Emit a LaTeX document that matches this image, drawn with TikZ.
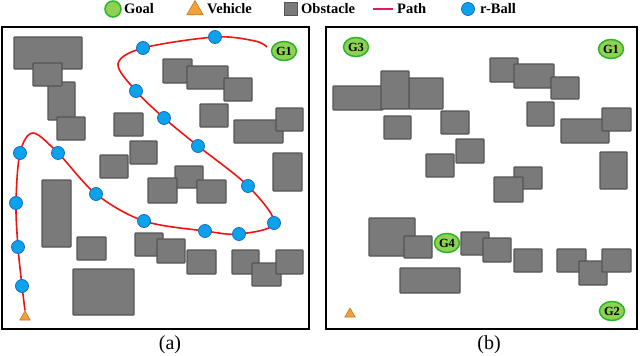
\documentclass[tikz,border=0pt]{standalone}
\usepackage{fontspec}
\setmainfont{Liberation Serif}
\usetikzlibrary{shapes.geometric}
\definecolor{obsfill}{HTML}{7A7A7A}
\definecolor{obsdraw}{HTML}{555555}
\definecolor{ballfill}{HTML}{0AA2EA}
\definecolor{balldraw}{HTML}{1A6CC4}
\definecolor{pathred}{HTML}{F01414}
\definecolor{legpath}{HTML}{E8185A}
\definecolor{goalfill}{HTML}{8FD152}
\definecolor{goaldraw}{HTML}{2BB52B}
\definecolor{vehfill}{HTML}{F2A03C}
\definecolor{vehdraw}{HTML}{C8781E}
\tikzset{
  frame/.style={draw=black, line width=2pt},
  obs/.style={fill=obsfill, draw=obsdraw, line width=1.3pt, rounded corners=0.8pt},
  ball/.style={circle, fill=ballfill, draw=balldraw, line width=0.8pt, minimum size=13pt, inner sep=0pt},
  goal/.style={ellipse, fill=goalfill, draw=goaldraw, line width=1.5pt, minimum width=25pt, minimum height=19pt, inner sep=0pt, font=\bfseries\fontsize{12.5}{12.5}\selectfont},
  vehicle/.style={regular polygon, regular polygon sides=3, fill=vehfill, draw=vehdraw, line width=0.6pt, minimum size=12pt, inner sep=0pt},
  legtext/.style={anchor=west, inner sep=0pt, font=\bfseries\fontsize{14.5}{16}\selectfont},
  route/.style={draw=pathred, line width=1.6pt},
  caption/.style={font=\fontsize{20}{22}\selectfont, inner sep=0pt}
}
\begin{document}
\begin{tikzpicture}[x=1pt,y=-1pt]
\useasboundingbox (0,0) rectangle (640,356);
\fill[white] (0,0) rectangle (640,356);

% ---------------- Legend ----------------
\node[circle, fill=goalfill, draw=goaldraw, line width=1.5pt, minimum size=16pt, inner sep=0pt] (lgoal) at (113,9) {};
\node[legtext] (tgoal) at (124,8.5) {Goal};
\node[regular polygon, regular polygon sides=3, fill=vehfill, draw=vehdraw, line width=0.6pt, minimum size=19pt, inner sep=0pt] (lveh) at (195,10) {};
\node[legtext] (tveh) at (207,8.5) {Vehicle};
\node[rectangle, fill=obsfill, draw=obsdraw, line width=1.3pt, minimum size=13pt, inner sep=0pt] (lobs) at (291,9) {};
\node[legtext] (tobs) at (301,8.5) {Obstacle};
\coordinate (lp1) at (373,9);
\coordinate (lp2) at (393,9);
\draw[draw=legpath, line width=2.5pt] (lp1) -- (lp2);
\node[legtext] (tpath) at (397,8.5) {Path};
\node[ball, minimum size=13pt] (lball) at (468,9) {};
\node[legtext] (tball) at (480,8.5) {r-Ball};

% ---------------- Panel (a) ----------------
\draw[frame] (2,27) rectangle (309,329);
\draw[obs] (14,37) rectangle (82,69);
\draw[obs] (48,82) rectangle (75,120);
\draw[obs] (33,63) rectangle (62,86);
\draw[obs] (57,117) rectangle (85,140);
\draw[obs] (114,113) rectangle (143,136);
\draw[obs] (130,141) rectangle (157,164);
\draw[obs] (100,155) rectangle (128,178);
\draw[obs] (163,59) rectangle (192,83);
\draw[obs] (187,66) rectangle (228,89);
\draw[obs] (224,78) rectangle (252,101);
\draw[obs] (200,104) rectangle (228,127);
\draw[obs] (234,120) rectangle (283,143);
\draw[obs] (276,108) rectangle (303,131);
\draw[obs] (273,153) rectangle (302,191);
\draw[obs] (175,166) rectangle (203,188);
\draw[obs] (148,178) rectangle (177,203);
\draw[obs] (197,180) rectangle (226,203);
\draw[obs] (42,180) rectangle (71,247);
\draw[obs] (77,237) rectangle (106,260);
\draw[obs] (135,233) rectangle (163,256);
\draw[obs] (157,239) rectangle (185,263);
\draw[obs] (187,250) rectangle (216,274);
\draw[obs] (232,250) rectangle (259,274);
\draw[obs] (252,263) rectangle (281,286);
\draw[obs] (276,250) rectangle (303,274);
\draw[obs] (73,269) rectangle (134,315);

\node[goal] (ga1) at (284,51) {G1};
\node[vehicle] (va) at (25,317) {};

\coordinate (p1) at (22,286);
\coordinate (p2) at (18,247);
\coordinate (p3) at (16,203);
\coordinate (p4) at (20,153);
\coordinate (c1) at (33,133);
\coordinate (p5) at (58,153);
\coordinate (p6) at (96,194);
\coordinate (p7) at (144,221);
\coordinate (p8) at (205,231);
\coordinate (p9) at (239,234);
\coordinate (p10) at (274,223);
\coordinate (p11) at (248,186);
\coordinate (p12) at (198,146);
\coordinate (p13) at (164,118);
\coordinate (p14) at (136,91);
\coordinate (c2) at (118,64);
\coordinate (p15) at (143,48);
\coordinate (p16) at (215,37);
\coordinate (c3) at (255,41);
\coordinate (c4) at (267,47);

\draw[route] plot[smooth, tension=0.55] coordinates {(va.north) (p1) (p2) (p3) (p4) (c1) (p5) (p6) (p7) (p8) (p9) (p10) (p11) (p12) (p13) (p14) (c2) (p15) (p16) (c3) (c4)};

\foreach \i in {1,...,16} { \node[ball] (ba\i) at (p\i) {}; }

\node[caption] (capa) at (170,345) {(a)};

% ---------------- Panel (b) ----------------
\draw[frame] (326,27) rectangle (637,329);
\draw[obs] (333,86) rectangle (383,110);
\draw[obs] (409,78) rectangle (443,109);
\draw[obs] (381,71) rectangle (409,109);
\draw[obs] (384,116) rectangle (411,139);
\draw[obs] (441,111) rectangle (469,134);
\draw[obs] (456,139) rectangle (484,163);
\draw[obs] (426,154) rectangle (454,177);
\draw[obs] (490,58) rectangle (518,82);
\draw[obs] (514,64) rectangle (554,88);
\draw[obs] (551,77) rectangle (579,99);
\draw[obs] (527,102) rectangle (554,126);
\draw[obs] (561,119) rectangle (609,143);
\draw[obs] (602,108) rectangle (631,131);
\draw[obs] (600,152) rectangle (627,189);
\draw[obs] (514,167) rectangle (542,189);
\draw[obs] (494,177) rectangle (523,202);
\draw[obs] (369,218) rectangle (415,256);
\draw[obs] (404,236) rectangle (432,258);
\draw[obs] (461,232) rectangle (489,255);
\draw[obs] (483,238) rectangle (511,262);
\draw[obs] (400,268) rectangle (460,293);
\draw[obs] (514,249) rectangle (542,272);
\draw[obs] (557,249) rectangle (586,272);
\draw[obs] (579,261) rectangle (607,285);
\draw[obs] (602,249) rectangle (631,272);

\node[goal] (gb3) at (356,47) {G3};
\node[goal] (gb1) at (611,49) {G1};
\node[goal] (gb4) at (447,243) {G4};
\node[goal] (gb2) at (612,311) {G2};
\node[vehicle] (vb) at (350,314) {};

\node[caption] (capb) at (489,345) {(b)};
\end{tikzpicture}
\end{document}
